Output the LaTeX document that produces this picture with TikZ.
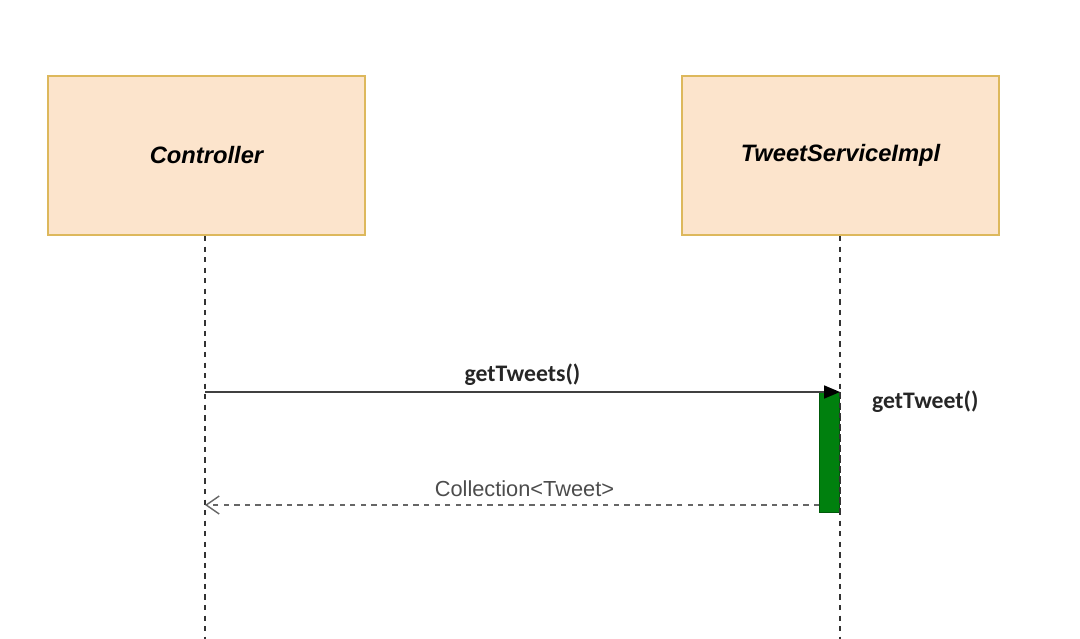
\documentclass[tikz,border=0pt]{standalone}
\usepackage{fontspec}
\setmainfont{Liberation Sans}
\newfontfamily\calfont{Carlito}
\usetikzlibrary{arrows.meta,positioning}
\definecolor{peach}{HTML}{FCE4CC}
\definecolor{peachline}{HTML}{DDB85C}
\definecolor{actgreen}{HTML}{00800E}
\tikzstyle{actor} = [draw=peachline, fill=peach, line width=1.2pt, rectangle, minimum width=6.34cm, minimum height=3.18cm, font=\fontsize{13.5}{16}\selectfont\bfseries\itshape]
\tikzstyle{activation} = [draw=actgreen!70!black, fill=actgreen, rectangle, inner sep=0pt, minimum width=0.4cm, minimum height=2.4cm]
\tikzstyle{lifeline} = [dashed, thick, black!80]
\tikzstyle{call} = [draw=black!75, line width=1pt, -{Triangle[length=0.32cm,width=0.26cm,color=black]}]
\tikzstyle{reply} = [draw=black!60, dashed, thick, -{Straight Barb[length=0.26cm,width=0.36cm]}]
\tikzstyle{msglabel} = [font=\calfont\fontsize{13.5}{15}\selectfont\bfseries, text=black!85]

\begin{document}
\begin{tikzpicture}[x=0.02cm,y=-0.02cm]
	\useasboundingbox (0,0) rectangle (1080,639);
	\node [actor] (ctrl) at (206.5,155.5) {Controller};
	\node [actor] (svc) at (840.5,155.5) {TweetServiceImpl};
	\coordinate (ctrlend) at (205,639);
	\coordinate (svcend) at (840,639);
	% lifelines
	\draw [lifeline] (ctrl.south -| ctrlend) -- (ctrlend);
	\draw [lifeline] (svc.south -| svcend) -- (svcend);
	\node [activation, anchor=north east] (act) at (840,392) {};
	\draw [lifeline] (act.north east) -- (act.south east);
	% messages
	\coordinate (callstart) at (ctrlend |- act.north);
	\draw [call] (callstart) -- (act.north east) node [msglabel, midway, above=0pt] (calllabel) {getTweets()};
	\node [msglabel, anchor=west] (selflabel) at (866,402) {getTweet()};
	\coordinate (replystart) at (act.south west |- 0,505);
	\coordinate (replyend) at (ctrlend |- replystart);
	\draw [reply] (replystart) -- (replyend) node [pos=0.48, above=1pt, font=\fontsize{12.4}{14}\selectfont, text=black!70] (replylabel) {Collection<Tweet>};
\end{tikzpicture}
\end{document}
